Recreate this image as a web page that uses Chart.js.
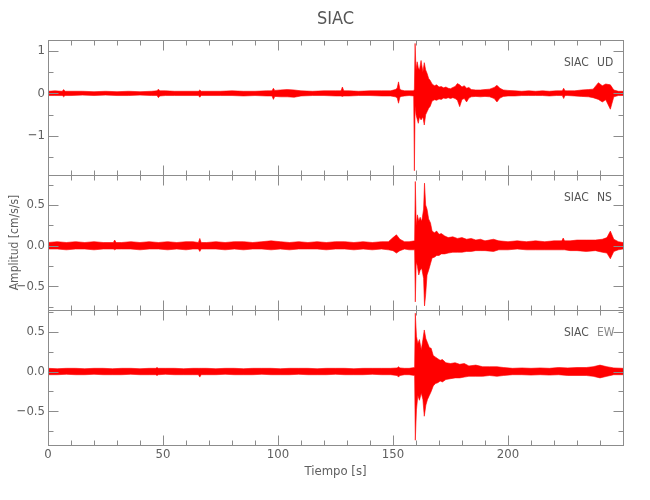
<!DOCTYPE html>
<html>
<head>
<meta charset="utf-8">
<script src="https://cdn.jsdelivr.net/npm/chart.js@4.4.0/dist/chart.umd.min.js"></script>
<style>
  body { margin: 0; background: #fff; }
  #wrap { position: relative; width: 650px; height: 500px; }
  canvas { position: absolute; left: 0; top: 0; }
</style>
</head>
<body>
<div id="wrap">
  <canvas id="ud" width="650" height="500"></canvas>
  <canvas id="ns" width="650" height="500"></canvas>
  <canvas id="ew" width="650" height="500"></canvas>
</div>
<script>
// station / components
var station = 'SIAC';
var xTicks = [0, 50, 100, 150, 200];

// UD component: time (s), upper and lower envelope (cm/s/s)
var timeUD = [0, 3, 6.2, 6.8, 7.4, 10, 15, 20, 25, 30,
  35, 40, 45, 47.4, 48, 48.6, 51, 55, 60, 65.4,
  66, 66.6, 70, 75, 80, 85, 90, 95, 97.4, 98,
  98.6, 101, 104, 107, 110, 115, 120, 125, 127.4, 128,
  128.6, 131, 135, 140, 145, 149, 151, 151.8, 152.4, 153,
  153.5, 155, 157, 159, 159.3, 159.6, 160, 160.5, 161, 161.5,
  162.2, 163, 163.6, 164.2, 164.8, 165.5, 166.2, 167, 168, 169,
  170, 171, 172, 173, 174, 175, 176, 177, 178, 179,
  180, 181, 182, 183, 184, 186, 188, 190, 192, 194,
  195.2, 196.5, 198, 200, 203, 206, 209, 212, 215, 218,
  221, 223.6, 224.2, 224.8, 226, 229, 232, 235, 237, 239.3,
  241, 242.5, 244.5, 246, 248, 250];
var topUD = [.05, .06, .05, .09, .05, .05, .05, .04, .05, .04,
  .05, .04, .05, .06, .10, .06, .06, .05, .05, .05,
  .08, .05, .05, .05, .06, .05, .05, .06, .06, .12,
  .07, .08, .09, .08, .06, .05, .06, .06, .06, .15,
  .06, .06, .05, .06, .06, .06, .09, .12, .27, .10,
  .08, .06, .06, .06, .10, 1.17, .55, .74, .60, .55,
  .77, .50, .72, .55, .47, .35, .30, .22, .18, .20,
  .15, .16, .13, .15, .12, .11, .14, .16, .23, .20,
  .15, .18, .12, .14, .09, .08, .08, .09, .10, .14,
  .19, .12, .08, .07, .06, .05, .06, .05, .06, .05,
  .06, .06, .12, .06, .06, .06, .08, .09, .10, .25,
  .18, .22, .20, .08, .05, .05];
var botUD = [-.05, -.05, -.05, -.08, -.05, -.05, -.04, -.05, -.04, -.05,
  -.05, -.04, -.05, -.05, -.10, -.06, -.05, -.05, -.05, -.05,
  -.09, -.05, -.05, -.05, -.05, -.06, -.05, -.06, -.06, -.14,
  -.07, -.08, -.08, -.09, -.06, -.05, -.05, -.06, -.06, -.07,
  -.06, -.06, -.05, -.05, -.06, -.06, -.08, -.10, -.23, -.09,
  -.07, -.06, -.05, -.06, -1.81, -.30, -.50, -.60, -.70, -.55,
  -.62, -.55, -.74, -.50, -.43, -.35, -.30, -.18, -.15, -.16,
  -.13, -.14, -.11, -.12, -.10, -.12, -.10, -.12, -.16, -.31,
  -.14, -.12, -.20, -.11, -.08, -.07, -.08, -.07, -.08, -.12,
  -.20, -.11, -.07, -.06, -.06, -.05, -.05, -.05, -.05, -.06,
  -.05, -.05, -.12, -.05, -.05, -.06, -.07, -.08, -.10, -.14,
  -.20, -.15, -.37, -.08, -.05, -.05];

// NS component
var timeNS = [0, 4, 8, 12, 16, 20, 24, 28.4, 29, 29.6,
  32, 36, 40, 44, 48, 52, 56, 60, 63, 65.4,
  66, 66.6, 69, 73, 77, 81, 85, 89, 93, 97,
  101, 105, 109, 113, 117, 121, 125, 129, 133, 137,
  141, 145, 148, 150, 151.5, 153, 155, 157, 159.4, 159.7,
  160.1, 160.6, 161.2, 161.8, 162.5, 163.3, 163.7, 164.2, 164.8, 165.5,
  166.3, 167, 168, 169, 170, 171, 172.5, 174, 176, 178,
  180, 182, 184, 186, 188, 190, 193.7, 196, 200, 204,
  208, 212, 216, 220, 223.4, 224, 224.6, 227, 230, 234,
  238, 241, 243, 244.5, 246, 248, 250];
var topNS = [.04, .05, .04, .05, .04, .05, .04, .04, .07, .04,
  .04, .05, .04, .05, .04, .05, .04, .05, .05, .04,
  .09, .04, .04, .05, .04, .05, .05, .04, .05, .06,
  .05, .04, .05, .04, .05, .04, .05, .05, .04, .05,
  .04, .05, .05, .10, .135, .08, .05, .05, .06, .79,
  .25, .38, .30, .35, .30, .45, .77, .50, .45, .33,
  .28, .18, .16, .18, .14, .15, .12, .10, .11, .09,
  .10, .08, .09, .07, .08, .06, .08, .06, .05, .06,
  .05, .06, .05, .06, .06, .095, .06, .06, .07, .07,
  .07, .08, .10, .18, .08, .05, .04];
var botNS = [-.04, -.04, -.05, -.04, -.04, -.05, -.04, -.04, -.05, -.04,
  -.04, -.04, -.05, -.04, -.04, -.05, -.04, -.05, -.04, -.04,
  -.07, -.04, -.04, -.04, -.05, -.04, -.05, -.04, -.04, -.05,
  -.04, -.05, -.04, -.04, -.04, -.05, -.04, -.04, -.05, -.04,
  -.05, -.04, -.05, -.06, -.09, -.06, -.04, -.05, -.05, -.69,
  -.20, -.25, -.36, -.30, -.28, -.40, -.74, -.60, -.36, -.30,
  -.22, -.15, -.14, -.12, -.12, -.10, -.10, -.09, -.08, -.08,
  -.08, -.07, -.07, -.06, -.06, -.06, -.07, -.05, -.05, -.04,
  -.05, -.05, -.05, -.05, -.05, -.05, -.05, -.06, -.06, -.07,
  -.06, -.08, -.09, -.16, -.07, -.05, -.04];

// EW component
var timeEW = [0, 4, 8, 12, 16, 20, 24, 28, 32, 36,
  40, 44, 46.8, 47.4, 48, 51, 55, 59, 63, 65.4,
  66, 66.6, 69, 73, 77, 81, 85, 89, 93, 97,
  101, 105, 109, 113, 117, 121, 125, 129, 133, 137,
  141, 145, 149, 151.8, 152.4, 153, 155, 157, 159.4, 159.7,
  160.2, 160.8, 161.5, 162.3, 163, 163.6, 164.3, 165, 165.8, 166.6,
  167.5, 168.5, 169.5, 170.5, 171.5, 173, 175, 177, 179, 181,
  183, 186, 189, 192, 195.2, 198, 202, 206, 210, 214,
  218, 222, 226, 230, 234, 237, 240, 243, 246, 250];
var topEW = [.04, .035, .04, .04, .035, .04, .04, .035, .04, .04,
  .035, .04, .04, .05, .04, .04, .04, .035, .04, .04,
  .04, .04, .04, .035, .04, .04, .035, .04, .04, .04,
  .035, .04, .04, .04, .035, .04, .04, .04, .035, .04,
  .04, .04, .04, .045, .06, .045, .04, .04, .05, .73,
  .44, .35, .40, .27, .40, .52, .41, .36, .30, .29,
  .20, .18, .16, .14, .15, .11, .10, .11, .09, .10,
  .07, .08, .06, .06, .06, .05, .04, .045, .04, .045,
  .04, .05, .045, .05, .05, .06, .08, .06, .045, .04];
var botEW = [-.04, -.04, -.035, -.04, -.04, -.035, -.04, -.04, -.04, -.035,
  -.04, -.04, -.04, -.05, -.04, -.035, -.04, -.04, -.04, -.04,
  -.07, -.04, -.04, -.04, -.035, -.04, -.04, -.04, -.035, -.04,
  -.04, -.04, -.035, -.04, -.04, -.04, -.035, -.04, -.04, -.04,
  -.035, -.04, -.04, -.05, -.07, -.05, -.04, -.04, -.05, -.86,
  -.48, -.30, -.36, -.27, -.35, -.56, -.42, -.35, -.30, -.25,
  -.18, -.15, -.14, -.12, -.13, -.10, -.09, -.08, -.08, -.07,
  -.06, -.06, -.06, -.05, -.06, -.05, -.04, -.04, -.045, -.04,
  -.045, -.04, -.05, -.05, -.05, -.06, -.08, -.06, -.04, -.04];

var FONT = "'Liberation Sans Narrow', 'DejaVu Sans Condensed', 'Liberation Sans', sans-serif";
var AXIS = '#8c8c8c';
var TEXT = '#606060';

function band(times, top, bot) {
  var common = { borderColor: '#ff0000', borderWidth: 0.6, pointRadius: 0, tension: 0 };
  return [
    Object.assign({ data: times.map((t, i) => ({ x: t, y: top[i] })), fill: false }, common),
    Object.assign({ data: times.map((t, i) => ({ x: t, y: bot[i] })), fill: '-1', backgroundColor: '#ff0000' }, common)
  ];
}

function minus(s) { return s.replace('-', '\u2212'); }

// frame, inward ticks on all four sides, component label
var framePlugin = {
  id: 'frame',
  afterDraw(chart, args, opts) {
    var ctx = chart.ctx, a = chart.chartArea, x = chart.scales.x, y = chart.scales.y;
    ctx.save();
    ctx.strokeStyle = AXIS;
    ctx.lineWidth = 1;
    var L = Math.round(a.left) + 0.5, R = Math.round(a.right) + 0.5;
    var T = Math.round(a.top) + 0.5, B = Math.round(a.bottom) + 0.5;
    ctx.strokeRect(L, T, R - L, B - T);
    ctx.beginPath();
    for (var v = 10; v < 250; v += 10) {
      var px = Math.round(x.getPixelForValue(v)) + 0.5;
      var len = v % 50 === 0 ? 10 : 5;
      ctx.moveTo(px, T); ctx.lineTo(px, T + len);
      ctx.moveTo(px, B); ctx.lineTo(px, B - len);
    }
    opts.major.concat(opts.minor).forEach(function (v) {
      var py = Math.round(y.getPixelForValue(v)) + 0.5;
      var len = opts.major.indexOf(v) >= 0 ? 10 : 5;
      ctx.moveTo(L, py); ctx.lineTo(L + len, py);
      ctx.moveTo(R, py); ctx.lineTo(R - len, py);
    });
    ctx.stroke();
    ctx.font = '12px ' + FONT;
    ctx.fillStyle = '#555';
    ctx.textBaseline = 'alphabetic';
    ctx.fillText(station, a.right - 59, a.top + 26);
    ctx.fillStyle = opts.labelColor || '#555';
    ctx.fillText(opts.label, a.right - 26, a.top + 26);
    ctx.restore();
  }
};

function panel(id, c) {
  return new Chart(document.getElementById(id), {
    type: 'line',
    data: { datasets: band(c.t, c.top, c.bot) },
    options: {
      responsive: false,
      animation: false,
      devicePixelRatio: 1,
      layout: { padding: { left: 0, right: 27, top: c.padTop, bottom: c.padBottom } },
      plugins: {
        legend: { display: false },
        tooltip: { enabled: false },
        title: {
          display: !!c.title, text: c.title, fullSize: false, color: '#555',
          font: { family: FONT, size: 18, weight: 'normal', lineHeight: 1.2 },
          padding: { top: 9, bottom: 9.4 }
        },
        frame: { major: c.major, minor: c.minor, label: c.label, labelColor: c.labelColor }
      },
      scales: {
        x: {
          type: 'linear', min: 0, max: 250, display: !!c.showX,
          afterBuildTicks: s => { s.ticks = xTicks.map(v => ({ value: v })); },
          afterFit: s => { if (c.showX) s.height = 55; },
          ticks: { color: TEXT, padding: 2, maxRotation: 0, font: { family: FONT, size: 13 }, callback: v => String(v) },
          grid: { display: false, drawTicks: false },
          border: { display: false },
          title: { display: true, text: 'Tiempo [s]', color: TEXT, font: { family: FONT, size: 13 }, padding: { top: 0, bottom: 21 } }
        },
        y: {
          min: c.ymin, max: c.ymax,
          afterBuildTicks: s => { s.ticks = c.major.map(v => ({ value: v })); },
          afterFit: s => { s.width = 48; },
          ticks: { color: TEXT, padding: 3, font: { family: FONT, size: 13 }, callback: c.fmt },
          grid: { display: false, drawTicks: false },
          border: { display: false },
          title: { display: !!c.ytitle, text: c.ytitle, color: TEXT, font: { family: FONT, size: 12 }, padding: { top: 8, bottom: 0 } }
        }
      }
    },
    plugins: [framePlugin]
  });
}

panel('ud', {
  t: timeUD, top: topUD, bot: botUD, title: station, label: 'UD',
  padTop: 0, padBottom: 325, ymin: -1.91, ymax: 1.25,
  major: [-1, 0, 1], minor: [-1.5, -0.5, 0.5],
  fmt: v => minus(String(v))
});
panel('ns', {
  t: timeNS, top: topNS, bot: botNS, label: 'NS', ytitle: 'Amplitud [cm/s/s]',
  padTop: 175, padBottom: 190, ymin: -0.79, ymax: 0.87,
  major: [-0.5, 0, 0.5], minor: [-0.75, -0.25, 0.25, 0.75],
  fmt: v => minus(v.toFixed(1))
});
panel('ew', {
  t: timeEW, top: topEW, bot: botEW, label: 'EW', labelColor: '#8a8a8a', showX: true,
  padTop: 310, padBottom: 0, ymin: -0.92, ymax: 0.77,
  major: [-0.5, 0, 0.5], minor: [-0.75, -0.25, 0.25, 0.75],
  fmt: v => minus(v.toFixed(1))
});
</script>
</body>
</html>
